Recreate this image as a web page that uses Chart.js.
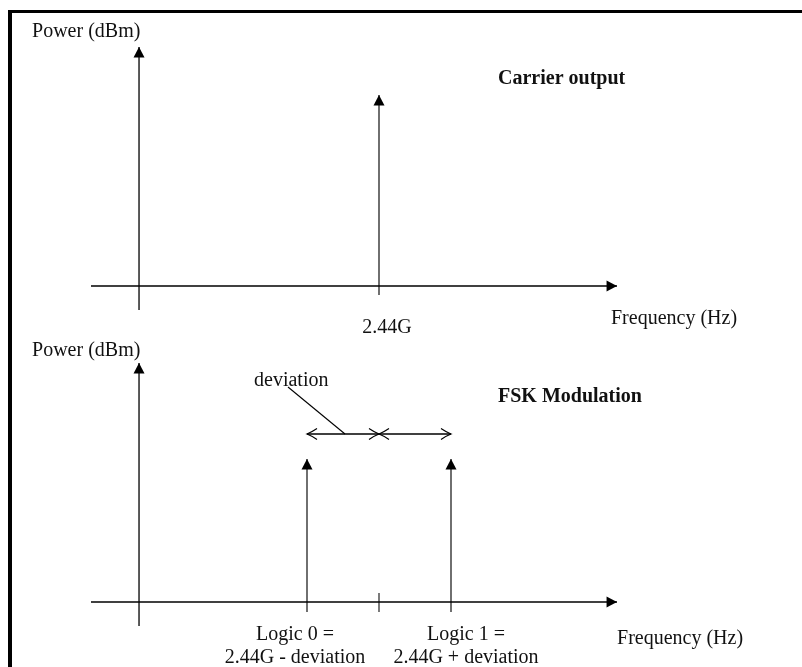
<!DOCTYPE html>
<html>
<head>
<meta charset="utf-8">
<script src="https://cdn.jsdelivr.net/npm/chart.js@4.4.1/dist/chart.umd.min.js"></script>
<style>
  html, body { margin: 0; padding: 0; background: #fff; }
  #wrap { position: relative; width: 802px; height: 667px; overflow: hidden; }
  #frame { position: absolute; left: 8px; top: 10px; width: 800px; height: 700px;
           border-left: 4px solid #000; border-top: 3px solid #000; box-sizing: border-box; }
  #c { position: absolute; left: 0; top: 0; }
</style>
</head>
<body>
<div id="wrap">
  <div id="frame"></div>
  <canvas id="c" width="802" height="667"></canvas>
</div>
<script>
// ---- DATA (frequency in units of the FSK deviation, relative to 2.44 GHz; power in relative units) ----
const carrierFreqs  = [0];          // 2.44G
const carrierPowers = [19.1];
const fskFreqs      = [-1, 1];      // 2.44G - deviation, 2.44G + deviation
const fskPowers     = [14.3, 14.3];
const deviationLevel = 16.8;        // height of the deviation dimension arrows
const centerTick    = [0];          // 2.44G tick on the FSK axis
const fskTickLabels = [["Logic 0 =", "2.44G - deviation"], ["Logic 1 =", "2.44G + deviation"]];
const carrierTickLabels = ["2.44G"];

// ---- LAYOUT (axis extents, label placement) ----
const L = {
  xMin: -5.2639, xMax: 5.875,
  top: { min: -38.1, max: 28.6 },
  bot: { min: -6.5,  max: 60.2 },
  axisXStart: -4.0, axisXEnd: 3.306, axisYAt: -3.333,
  yAxisTop: 23.9, yAxisBottom: -2.4,
  spikeBelow: -0.9, tickUp: 0.9, tickDown: -1.0,
  leader: [{x: -1.264, y: 21.5}, {x: -0.472, y: deviationLevel}]
};

const BLACK = '#000';
function seg(points, axis, opts) {
  return Object.assign({
    type: 'line', data: points, yAxisID: axis, showLine: true,
    borderColor: BLACK, borderWidth: 1.3, pointRadius: 0, fill: false, tension: 0
  }, opts || {});
}

const datasets = [];
['yTop', 'yBot'].forEach(function (ax) {
  // frequency axis
  datasets.push(seg([{x: L.axisXStart, y: 0}, {x: L.axisXEnd, y: 0}], ax, {arrowEnd: 'filled'}));
  // power axis
  datasets.push(seg([{x: L.axisYAt, y: L.yAxisBottom}, {x: L.axisYAt, y: L.yAxisTop}], ax, {arrowEnd: 'filled'}));
});
// carrier spike
carrierFreqs.forEach(function (f, i) {
  datasets.push(seg([{x: f, y: L.spikeBelow}, {x: f, y: carrierPowers[i]}], 'yTop', {arrowEnd: 'filled', borderColor: '#222'}));
});
// FSK spikes
fskFreqs.forEach(function (f, i) {
  datasets.push(seg([{x: f, y: L.tickDown}, {x: f, y: fskPowers[i]}], 'yBot', {arrowEnd: 'filled', borderColor: '#222'}));
});
// center tick
centerTick.forEach(function (f) {
  datasets.push(seg([{x: f, y: L.tickDown}, {x: f, y: L.tickUp}], 'yBot', {borderColor: '#333'}));
});
// deviation dimension arrows
fskFreqs.forEach(function (f) {
  datasets.push(seg([{x: centerTick[0], y: deviationLevel}, {x: f, y: deviationLevel}], 'yBot',
    {arrowEnd: 'open', arrowStart: 'open'}));
});
// leader line from "deviation" label
datasets.push(seg(L.leader, 'yBot', {borderWidth: 1.1}));

const labels = [
  {text: 'Power (dBm)', x: -4.819, y: 24.9, axis: 'yTop', align: 'left'},
  {text: 'Carrier output', x: 1.653, y: 20.2, axis: 'yTop', align: 'left', bold: true},
  {text: carrierTickLabels[0], x: 0.111, y: -4.7, axis: 'yTop', align: 'center'},
  {text: 'Frequency (Hz)', x: 3.222, y: -3.8, axis: 'yTop', align: 'left'},
  {text: 'Power (dBm)', x: -4.819, y: 24.6, axis: 'yBot', align: 'left'},
  {text: 'deviation', x: -1.736, y: 21.6, axis: 'yBot', align: 'left'},
  {text: 'FSK Modulation', x: 1.653, y: 20.0, axis: 'yBot', align: 'left', bold: true},
  {text: fskTickLabels[0][0], x: -1.167, y: -3.8, axis: 'yBot', align: 'center'},
  {text: fskTickLabels[0][1], x: -1.167, y: -6.1, axis: 'yBot', align: 'center'},
  {text: fskTickLabels[1][0], x: 1.208, y: -3.8, axis: 'yBot', align: 'center'},
  {text: fskTickLabels[1][1], x: 1.208, y: -6.1, axis: 'yBot', align: 'center'},
  {text: 'Frequency (Hz)', x: 3.306, y: -4.2, axis: 'yBot', align: 'left'}
];

function drawHead(ctx, tip, from, kind) {
  const ang = Math.atan2(tip.y - from.y, tip.x - from.x);
  ctx.save();
  ctx.translate(tip.x, tip.y);
  ctx.rotate(ang);
  if (kind === 'filled') {
    ctx.fillStyle = BLACK;
    ctx.beginPath();
    ctx.moveTo(0, 0);
    ctx.lineTo(-10.5, -5.5);
    ctx.lineTo(-10.5, 5.5);
    ctx.closePath();
    ctx.fill();
  } else {
    ctx.strokeStyle = BLACK;
    ctx.lineWidth = 1.2;
    ctx.beginPath();
    ctx.moveTo(-10, -5.5);
    ctx.quadraticCurveTo(-4, -1.5, 0, 0);
    ctx.quadraticCurveTo(-4, 1.5, -10, 5.5);
    ctx.stroke();
  }
  ctx.restore();
}

const arrowPlugin = {
  id: 'arrows',
  afterDatasetsDraw(chart) {
    const ctx = chart.ctx;
    chart.data.datasets.forEach(function (ds, i) {
      const pts = chart.getDatasetMeta(i).data;
      if (pts.length < 2) return;
      if (ds.arrowEnd) drawHead(ctx, pts[pts.length - 1], pts[pts.length - 2], ds.arrowEnd);
      if (ds.arrowStart) drawHead(ctx, pts[0], pts[1], ds.arrowStart);
    });
  }
};

const textPlugin = {
  id: 'texts',
  afterDraw(chart) {
    const ctx = chart.ctx;
    ctx.save();
    ctx.fillStyle = '#111';
    ctx.textBaseline = 'alphabetic';
    labels.forEach(function (lb) {
      ctx.font = (lb.bold ? 'bold ' : '') + '20px "Liberation Serif", "Times New Roman", serif';
      ctx.textAlign = lb.align;
      ctx.fillText(lb.text, chart.scales.x.getPixelForValue(lb.x), chart.scales[lb.axis].getPixelForValue(lb.y));
    });
    ctx.restore();
  }
};

new Chart(document.getElementById('c'), {
  type: 'scatter',
  data: { datasets: datasets },
  options: {
    responsive: false, animation: false, events: [],
    layout: { padding: 0 },
    plugins: { legend: { display: false }, tooltip: { enabled: false } },
    scales: {
      x:    { type: 'linear', min: L.xMin, max: L.xMax, display: false },
      y:    { type: 'linear', display: false },
      yTop: { type: 'linear', min: L.top.min, max: L.top.max, display: false },
      yBot: { type: 'linear', min: L.bot.min, max: L.bot.max, display: false }
    }
  },
  plugins: [arrowPlugin, textPlugin]
});
</script>
</body>
</html>
